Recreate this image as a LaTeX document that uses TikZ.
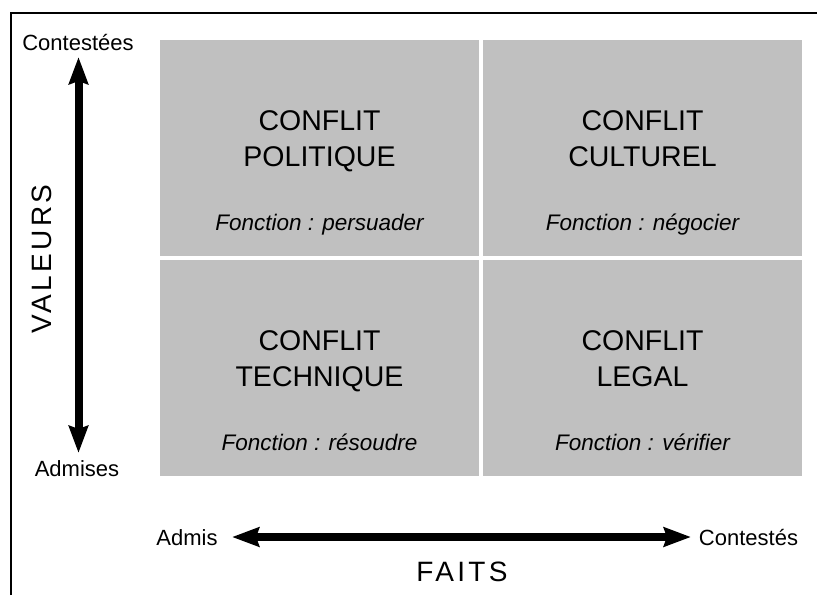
\documentclass[tikz,border=0pt]{standalone}
\usepackage{fontspec}
\setmainfont{Liberation Sans}
\usetikzlibrary{arrows.meta}
\definecolor{cellgray}{HTML}{C0C0C0}
\tikzset{
  cell/.style={fill=cellgray, minimum width=319pt, minimum height=216pt, inner sep=0pt},
  title/.style={font=\fontsize{28.5}{32}\selectfont, anchor=base},
  role/.style={font=\fontsize{22.5}{26}\selectfont\itshape, anchor=base},
  axislabel/.style={font=\fontsize{22}{26}\selectfont},
  axistitle/.style={font=\fontsize{28}{32}\selectfont\addfontfeature{LetterSpace=12}},
  bigarrow/.style={line width=8pt, >={Stealth[length=27pt,width=19pt,inset=3pt]}, <->}
}
\begin{document}
\begin{tikzpicture}[x=1pt,y=-1pt]
	\useasboundingbox (0,0) rectangle (817,595);
	% frame
	\draw[line width=2.5pt] (11,595) |- (817,13);
	% quadrants
	\foreach \cx/\cy/\n/\t/\f in {319.5/40/politique/POLITIQUE/persuader,
		642.5/40/culturel/CULTUREL/négocier,
		319.5/260/technique/TECHNIQUE/résoudre,
		642.5/260/legal/LEGAL/vérifier}{
		\node[cell] (\n) at (\cx,\cy+108) {};
		\node[title] (\n-a) at (\cx,\cy+90.7) {CONFLIT};
		\node[title] (\n-b) at (\cx,\cy+126) {\t};
		\node[role] (\n-f) at (\cx,\cy+190.7) {Fonction : \f};
	}
	% values axis
	\coordinate (vtop) at (78.5,57);
	\coordinate (vbot) at (78.5,453);
	\node[axislabel] (contestees) at (78,43) {Contestées};
	\node[axislabel] (admises) at (77,469) {Admises};
	\draw[bigarrow] (vbot) -- (vtop);
	\node[axistitle, rotate=90] (valeurs) at (42,259) {VALEURS};
	% facts axis
	\coordinate (hleft) at (232,537);
	\coordinate (hright) at (691,537);
	\node[axislabel] (admis) at (187,538) {Admis};
	\node[axislabel] (contestes) at (748.5,537) {Contestés};
	\draw[bigarrow] (hleft) -- (hright);
	\node[axistitle] (faits) at (462,572) {FAITS};
\end{tikzpicture}
\end{document}
